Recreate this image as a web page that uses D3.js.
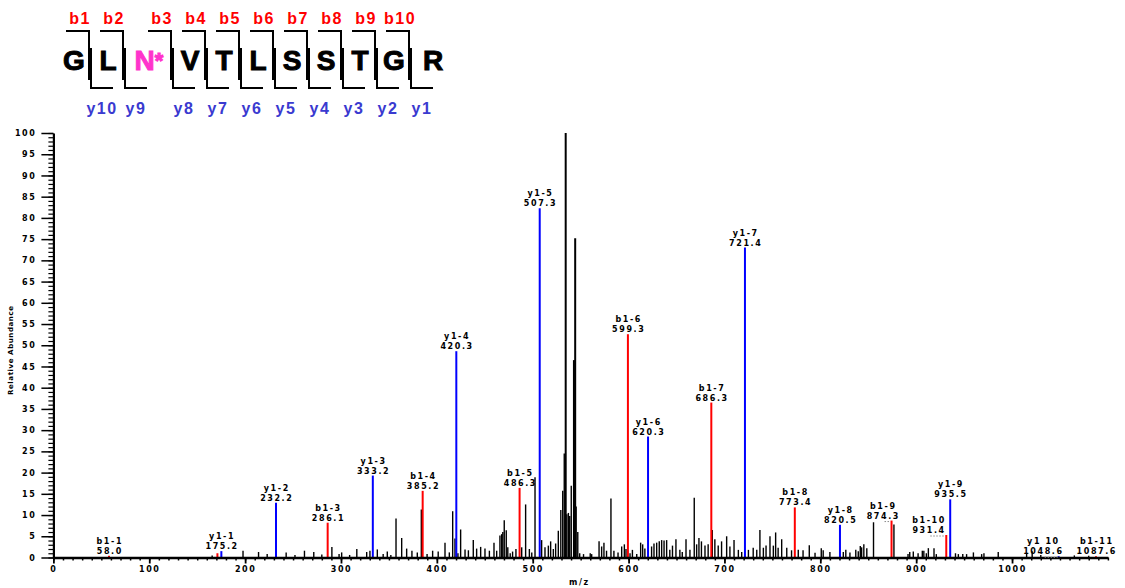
<!DOCTYPE html>
<html>
<head>
<meta charset="utf-8">
<script src="https://cdn.jsdelivr.net/npm/d3@7"></script>
<style>
  html, body { margin: 0; padding: 0; background: #fff; overflow: hidden; }
  svg { display: block; }
  .tiny { font-family: "DejaVu Sans", sans-serif; font-weight: bold; font-size: 8px; letter-spacing: 1.6px; fill: #000; }
  .hdr { font-family: "Liberation Sans", Arial, sans-serif; font-weight: bold; }
</style>
</head>
<body>
<svg id="chart" width="1125" height="588"></svg>
<script>
// ---- Peptide sequence and fragment ion names ----
const residues = ["G", "L", "N", "V", "T", "L", "S", "S", "T", "G", "R"];
const modifiedIndex = 2;            // deamidated asparagine, shown as N*
const bIonNames = ["b1", "b2", "b3", "b4", "b5", "b6", "b7", "b8", "b9", "b10"];
const yIonNames = ["y10", "y9", "y8", "y7", "y6", "y5", "y4", "y3", "y2", "y1"];

// ---- Assigned fragment ions (m/z, relative abundance, series, label) ----
const ionMz        = [58.0, 171.1, 175.2, 232.2, 286.1, 333.2, 385.2, 420.3, 486.3, 507.3, 599.3, 620.3, 686.3, 721.4, 773.4, 820.5, 874.3, 931.4, 935.5, 1048.6, 1087.6];
const ionIntensity = [0.4, 1.0, 1.5, 12.9, 8.2, 19.3, 15.7, 48.6, 16.4, 82.3, 52.6, 28.5, 36.5, 73.0, 11.8, 7.7, 8.7, 5.3, 13.7, 0.3, 0.3];
const ionSeries    = ["b", "b", "y", "y", "b", "y", "b", "y", "b", "y", "b", "y", "b", "y", "b", "y", "b", "b", "y", "y", "b"];
const ionLabel     = ["b1-1", "", "y1-1", "y1-2", "b1-3", "y1-3", "b1-4", "y1-4", "b1-5", "y1-5", "b1-6", "y1-6", "b1-7", "y1-7", "b1-8", "y1-8", "b1-9", "b1-10", "y1-9", "y1 10", "b1-11"];

// ---- Unassigned peaks ----
const otherMz = [
  165.6, 197.8, 214.0, 223.0, 242.8, 252.0, 261.9, 271.6, 280.0, 290.5, 298.0, 300.7, 309.0, 316.5, 326.8, 330.2,
  337.9, 344.0, 348.3, 352.0, 357.4, 363.3, 368.5, 374.0, 379.6, 383.8, 389.8, 395.6, 401.4, 408.5, 413.0, 416.5,
  418.9, 422.0, 424.8, 429.4, 432.9, 438.0, 441.5, 445.7, 450.2, 454.8, 459.6, 462.4, 465.8, 467.6, 468.8, 470.3,
  472.4, 474.0, 476.5, 479.0, 482.5, 488.5, 492.6, 496.5, 499.0, 502.4, 509.3, 512.8, 516.3, 518.7, 521.5, 523.9,
  526.7, 529.3, 531.3, 532.9, 534.4, 535.6, 537.2, 538.6, 540.2, 543.0, 544.3, 545.3, 547.0, 549.0, 553.0, 560.0,
  561.5, 569.2, 571.9, 574.3, 577.0, 581.6, 584.7, 589.0, 592.8, 595.6, 597.3, 601.5, 604.0, 608.5, 612.6, 614.7,
  617.0, 624.0, 626.5, 629.3, 632.0, 634.5, 637.0, 639.7, 643.0, 645.8, 649.4, 653.5, 656.0, 659.9, 664.0, 668.5,
  671.0, 673.4, 676.0, 679.7, 683.0, 687.3, 690.0, 693.5, 697.0, 702.3, 705.7, 710.0, 714.5, 718.0, 725.0, 730.0,
  733.7, 737.0, 740.6, 743.4, 747.5, 751.0, 753.4, 756.0, 759.7, 765.0, 770.0, 777.0, 782.0, 788.5, 794.5, 801.0,
  803.0, 810.0, 824.0, 826.6, 830.9, 837.0, 839.6, 841.7, 843.1, 845.4, 848.5, 855.5, 876.8, 891.5, 893.3, 897.0,
  902.0, 906.4, 908.0, 910.6, 912.7, 918.6, 921.0, 941.0, 944.0, 948.6, 952.6, 959.7, 968.3, 970.7, 985.6, 1015.2,
  1021.0, 1030.0, 1065.0, 1080.0
];
const otherIntensity = [
  0.5, 1.6, 1.3, 0.8, 1.2, 0.6, 1.6, 1.3, 0.7, 2.5, 0.8, 1.2, 0.6, 2.0, 1.3, 1.6,
  1.9, 0.8, 1.4, 0.6, 9.2, 4.6, 2.1, 1.6, 1.2, 11.3, 0.8, 1.6, 1.4, 3.5, 1.2, 10.9,
  4.5, 1.0, 6.6, 1.9, 1.7, 4.1, 2.1, 2.5, 2.1, 1.6, 3.5, 1.6, 5.2, 5.5, 6.0, 8.8,
  6.4, 2.4, 1.0, 1.4, 2.0, 2.4, 12.5, 2.0, 1.2, 18.9, 4.1, 2.4, 2.8, 3.8, 2.0, 3.3,
  6.3, 11.2, 15.7, 24.5, 100, 10.2, 10.5, 9.8, 16.9, 46.5, 75.2, 12.0, 6.0, 1.0, 0.8, 1.0,
  0.8, 3.8, 2.6, 3.5, 1.6, 13.9, 1.6, 1.2, 2.6, 3.1, 2.0, 1.0, 1.8, 0.8, 3.5, 3.1,
  2.1, 2.6, 3.3, 3.5, 3.8, 4.1, 4.0, 4.1, 1.8, 2.8, 4.3, 1.8, 1.3, 4.3, 1.8, 14.1,
  3.1, 4.6, 3.8, 2.8, 3.1, 6.5, 4.3, 2.8, 3.8, 5.0, 2.6, 4.1, 1.8, 1.3, 1.8, 2.3,
  1.8, 6.5, 2.3, 2.8, 5.0, 2.8, 5.9, 2.3, 4.3, 2.3, 1.7, 1.8, 1.7, 2.9, 1.1, 2.2,
  1.7, 1.3, 1.3, 1.8, 1.2, 1.8, 1.5, 2.7, 2.4, 3.1, 2.2, 8.3, 7.8, 0.8, 1.3, 1.4,
  1.0, 1.6, 1.6, 1.0, 2.2, 2.2, 0.8, 1.0, 0.8, 0.8, 0.8, 1.2, 0.8, 1.0, 1.3, 1.0,
  1.5, 0.6, 0.5, 0.4
];

// ---- Axis ticks ----
const xTickValues = d3.range(0, 1001, 100);
const xMinorValues = d3.range(0, 1101, 10);
const yTickValues = d3.range(0, 101, 5);
const yMinorValues = d3.range(0, 101, 1);

// Horizontal nudges for labels that would collide with neighbouring peaks
const labelShift = { "b1-9": -9, "b1-10": -18, "y1 10": -16 };

const seriesColor = { b: "#ff0000", y: "#0000ff" };

const svg = d3.select("#chart");

// ---------- Spectrum ----------
const x = d3.scaleLinear().domain([0, 1100]).range([53.4, 1107.9]);
const y = d3.scaleLinear().domain([0, 100]).range([557.5, 133]);

const fmt = d3.format(".1f");

// unassigned peaks (black)
svg.append("g")
  .selectAll("line")
  .data(d3.zip(otherMz, otherIntensity))
  .join("line")
  .attr("x1", d => x(d[0])).attr("x2", d => x(d[0]))
  .attr("y1", y(0)).attr("y2", d => y(d[1]))
  .attr("stroke", "#000")
  .attr("stroke-width", d => d[1] > 40 ? 2 : 1.4);

const ions = ionMz.map((mz, i) => ({
  mz, inten: ionIntensity[i], series: ionSeries[i], label: ionLabel[i]
}));

// assigned fragment peaks (red b, blue y)
svg.append("g")
  .selectAll("line")
  .data(ions)
  .join("line")
  .attr("x1", d => x(d.mz)).attr("x2", d => x(d.mz))
  .attr("y1", y(0)).attr("y2", d => y(d.inten))
  .attr("stroke", d => seriesColor[d.series])
  .attr("stroke-width", 2);

// ---------- Axes ----------
const xMinor = svg.append("g").attr("transform", `translate(0,${y(0)})`)
  .call(d3.axisBottom(x).tickValues(xMinorValues).tickSize(3).tickSizeOuter(0).tickFormat(""));
xMinor.select(".domain").remove();
xMinor.selectAll("line").attr("stroke-width", 1.5);

const xAxis = svg.append("g").attr("transform", `translate(0,${y(0)})`)
  .call(d3.axisBottom(x).tickValues(xTickValues).tickSize(6).tickSizeOuter(0).tickPadding(3).tickFormat(d3.format("d")));
xAxis.select(".domain").attr("stroke-width", 2.5);
xAxis.selectAll("line").attr("stroke-width", 1.8);
xAxis.selectAll("text").attr("class", "tiny").attr("font-size", null).attr("font-family", null);

const yMinor = svg.append("g").attr("transform", `translate(${x(0)},0)`)
  .call(d3.axisLeft(y).tickValues(yMinorValues).tickSize(5).tickSizeOuter(0).tickFormat(""));
yMinor.select(".domain").remove();
yMinor.selectAll("line").attr("stroke-width", 1.2);

const yAxis = svg.append("g").attr("transform", `translate(${x(0)},0)`)
  .call(d3.axisLeft(y).tickValues(yTickValues).tickSize(12).tickSizeOuter(0).tickPadding(5).tickFormat(d3.format("d")));
yAxis.select(".domain").attr("stroke-width", 2.2);
yAxis.selectAll("line").attr("stroke-width", 1.5);
yAxis.selectAll("text").attr("class", "tiny").attr("font-size", null).attr("font-family", null);

svg.selectAll(".domain").attr("stroke", "#000");

// axis titles
svg.append("text").attr("class", "tiny")
  .attr("transform", `translate(13,${(y(0) + y(100)) / 2 + 5}) rotate(-90)`)
  .attr("text-anchor", "middle")
  .style("font-size", "7px").style("letter-spacing", "0.6px")
  .text("Relative Abundance");

svg.append("text").attr("class", "tiny")
  .attr("x", 569).attr("y", 585)
  .text("m/z");

// ---------- Peak annotations ----------
const ann = svg.append("g");
ions.filter(d => d.label).forEach(d => {
  const px = x(d.mz), top = y(d.inten);
  const dx = labelShift[d.label] || 0;
  const lx = px + dx + 0.8;
  ann.append("text").attr("class", "tiny").attr("text-anchor", "middle")
    .attr("x", lx).attr("y", top - 12).text(d.label);
  ann.append("text").attr("class", "tiny").attr("text-anchor", "middle")
    .attr("x", lx).attr("y", top - 2).text(fmt(d.mz));
  if (dx) {
    ann.append("line")
      .attr("x1", px + dx + 2).attr("y1", top + 1)
      .attr("x2", px - 1).attr("y2", top + 1)
      .attr("stroke", "#8a8a8a").attr("stroke-width", 1)
      .attr("stroke-dasharray", "1.5,1.5");
  }
});

// ---------- Sequence header with fragment brackets ----------
const hdr = svg.append("g");
const cutStep = 34, cutStart = 89, modExtra = 14;
const cutX = d3.range(residues.length - 1).map(i => cutStart + cutStep * i + (i >= modifiedIndex ? modExtra : 0));
const edges = [cutStart - cutStep].concat(cutX, [cutX[cutX.length - 1] + cutStep + 10]);

residues.forEach((r, i) => {
  const cx = (edges[i] + edges[i + 1]) / 2 + 2;
  const t = hdr.append("text").attr("class", "hdr")
    .attr("x", cx).attr("y", 70)
    .attr("text-anchor", "middle")
    .style("font-size", "28px")
    .attr("fill", i === modifiedIndex ? "#ff33cc" : "#000")
    .attr("stroke", i === modifiedIndex ? "#ff33cc" : "#000")
    .attr("stroke-width", 1);
  t.append("tspan").text(r);
  if (i === modifiedIndex) {
    t.append("tspan").text("*").style("font-size", "22px").attr("dy", -2);
  }
});

cutX.forEach((cx, i) => {
  // b-ion bracket: top bar ending in a downward stroke
  hdr.append("path")
    .attr("d", `M${cx - 23},31 H${cx} V80`)
    .attr("fill", "none").attr("stroke", "#000").attr("stroke-width", 2);
  // y-ion bracket: upward stroke with a bottom bar to the right
  hdr.append("path")
    .attr("d", `M${cx + 2},48 V88 H${cx + 24}`)
    .attr("fill", "none").attr("stroke", "#000").attr("stroke-width", 2);

  hdr.append("text").attr("class", "hdr")
    .attr("x", cx - 9).attr("y", 23.5)
    .attr("text-anchor", "middle")
    .style("font-size", "16px").style("letter-spacing", "1.5px")
    .attr("fill", "#ff0000")
    .text(bIonNames[i]);

  hdr.append("text").attr("class", "hdr")
    .attr("x", cx + 13).attr("y", 113.5)
    .attr("text-anchor", "middle")
    .style("font-size", "16px").style("letter-spacing", "1.5px")
    .attr("fill", "#3a3ad0")
    .text(yIonNames[i]);
});
</script>
</body>
</html>
